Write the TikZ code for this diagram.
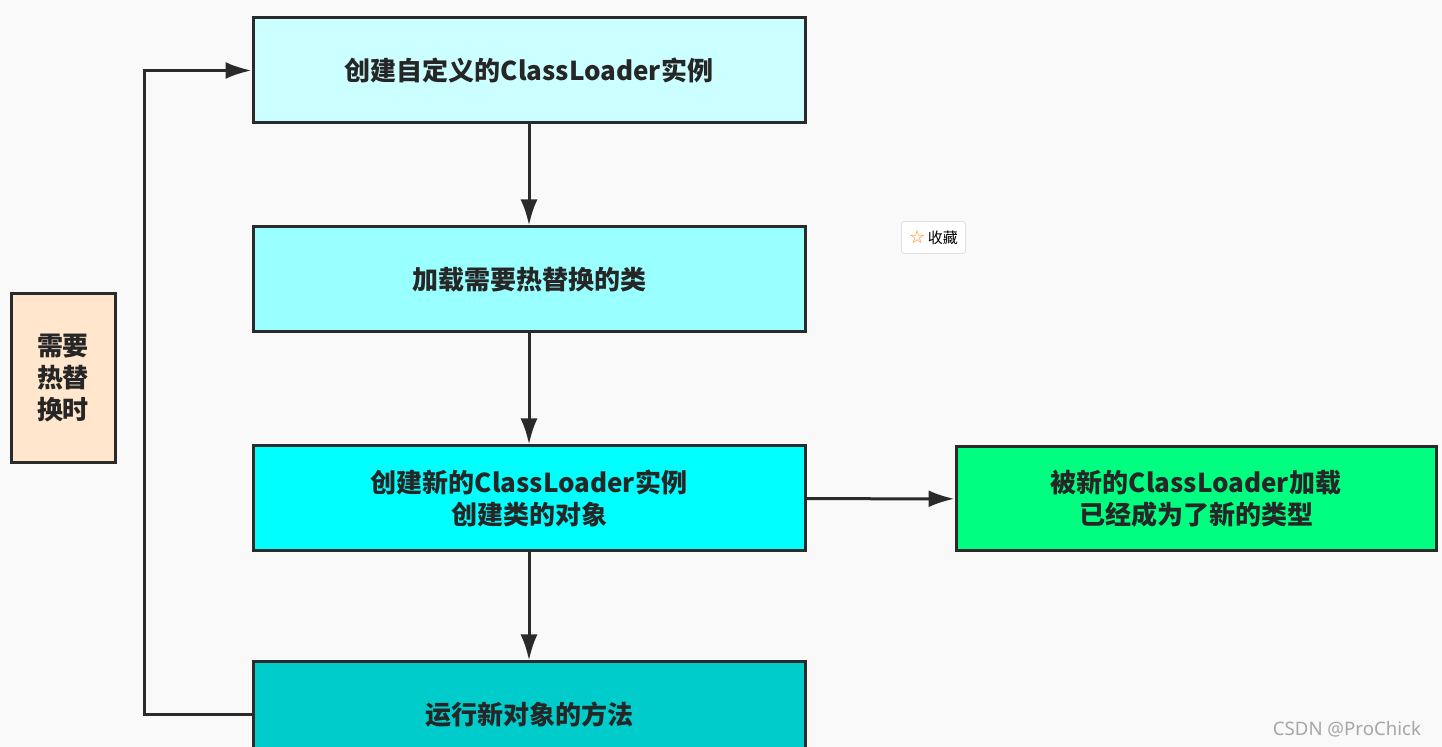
\documentclass[tikz,border=0pt]{standalone}
\usepackage{fontspec}
\setmainfont{Noto Sans CJK SC}
\newfontfamily\symfont{DejaVu Sans}
\newfontfamily\markfont{Noto Sans}
\usetikzlibrary{arrows.meta}
\definecolor{bgc}{HTML}{F9F9F9}
\definecolor{edge}{HTML}{2A2A2A}
\definecolor{cA}{HTML}{CCFFFF}
\definecolor{cB}{HTML}{99FFFF}
\definecolor{cC}{HTML}{00FFFF}
\definecolor{cD}{HTML}{00CCCC}
\definecolor{cE}{HTML}{00FF80}
\definecolor{cF}{HTML}{FFE6CC}

\begin{document}
\begin{tikzpicture}[x=0.5pt,y=-0.5pt,
    stepbox/.style={draw=edge,line width=1.5pt,minimum width=276pt,minimum height=52.5pt,
        align=center,font=\bfseries\fontsize{13}{16}\selectfont,text=black!85},
    flow/.style={draw=edge,line width=1.5pt,-{Latex[length=13pt,width=8.5pt]}}]
    \fill [bgc] (0,0) rectangle (1442,747);
    \clip (0,0) rectangle (1442,747);
    % main column
    \node [stepbox,fill=cA] (create) at (529,70.5) {创建自定义的ClassLoader实例};
    \node [stepbox,fill=cB] (load) at (529,279.5) {加载需要热替换的类};
    \node [stepbox,fill=cC] (newobj) at (529,498.5) {创建新的ClassLoader实例\\创建类的对象};
    \node [stepbox,fill=cD] (run) at (529,714.5) {运行新对象的方法};
    % side boxes
    \node [stepbox,fill=cE,minimum width=240pt,minimum height=52pt] (newtype) at (1196,499) {被新的ClassLoader加载\\已经成为了新的类型};
    \node [stepbox,fill=cF,minimum width=52pt,minimum height=84.5pt] (when) at (63,378.5) {需要\\热替\\换时};
    \draw [flow] (create) -- (load);
    \draw [flow] (load) -- (newobj);
    \draw [flow] (newobj) -- (run);
    \draw [flow] (newobj) -- (newtype);
    \draw [flow] (run.west) -- ++(-107,0) |- (create.west);
    % overlay bits
    \node [draw=black!12,fill=white,rounded corners=1.5pt,minimum width=32pt,minimum height=16pt,
        inner sep=1pt,font=\fontsize{7.5}{8}\selectfont] (fav) at (933.5,237.5)
        {{\symfont\fontsize{9}{9}\selectfont\color{orange}☆}\,收藏};
    \node [font=\markfont\fontsize{9.3}{10}\selectfont,text=black!35,anchor=east] (mark) at (1428,729) {CSDN @ProChick};
\end{tikzpicture}
\end{document}
